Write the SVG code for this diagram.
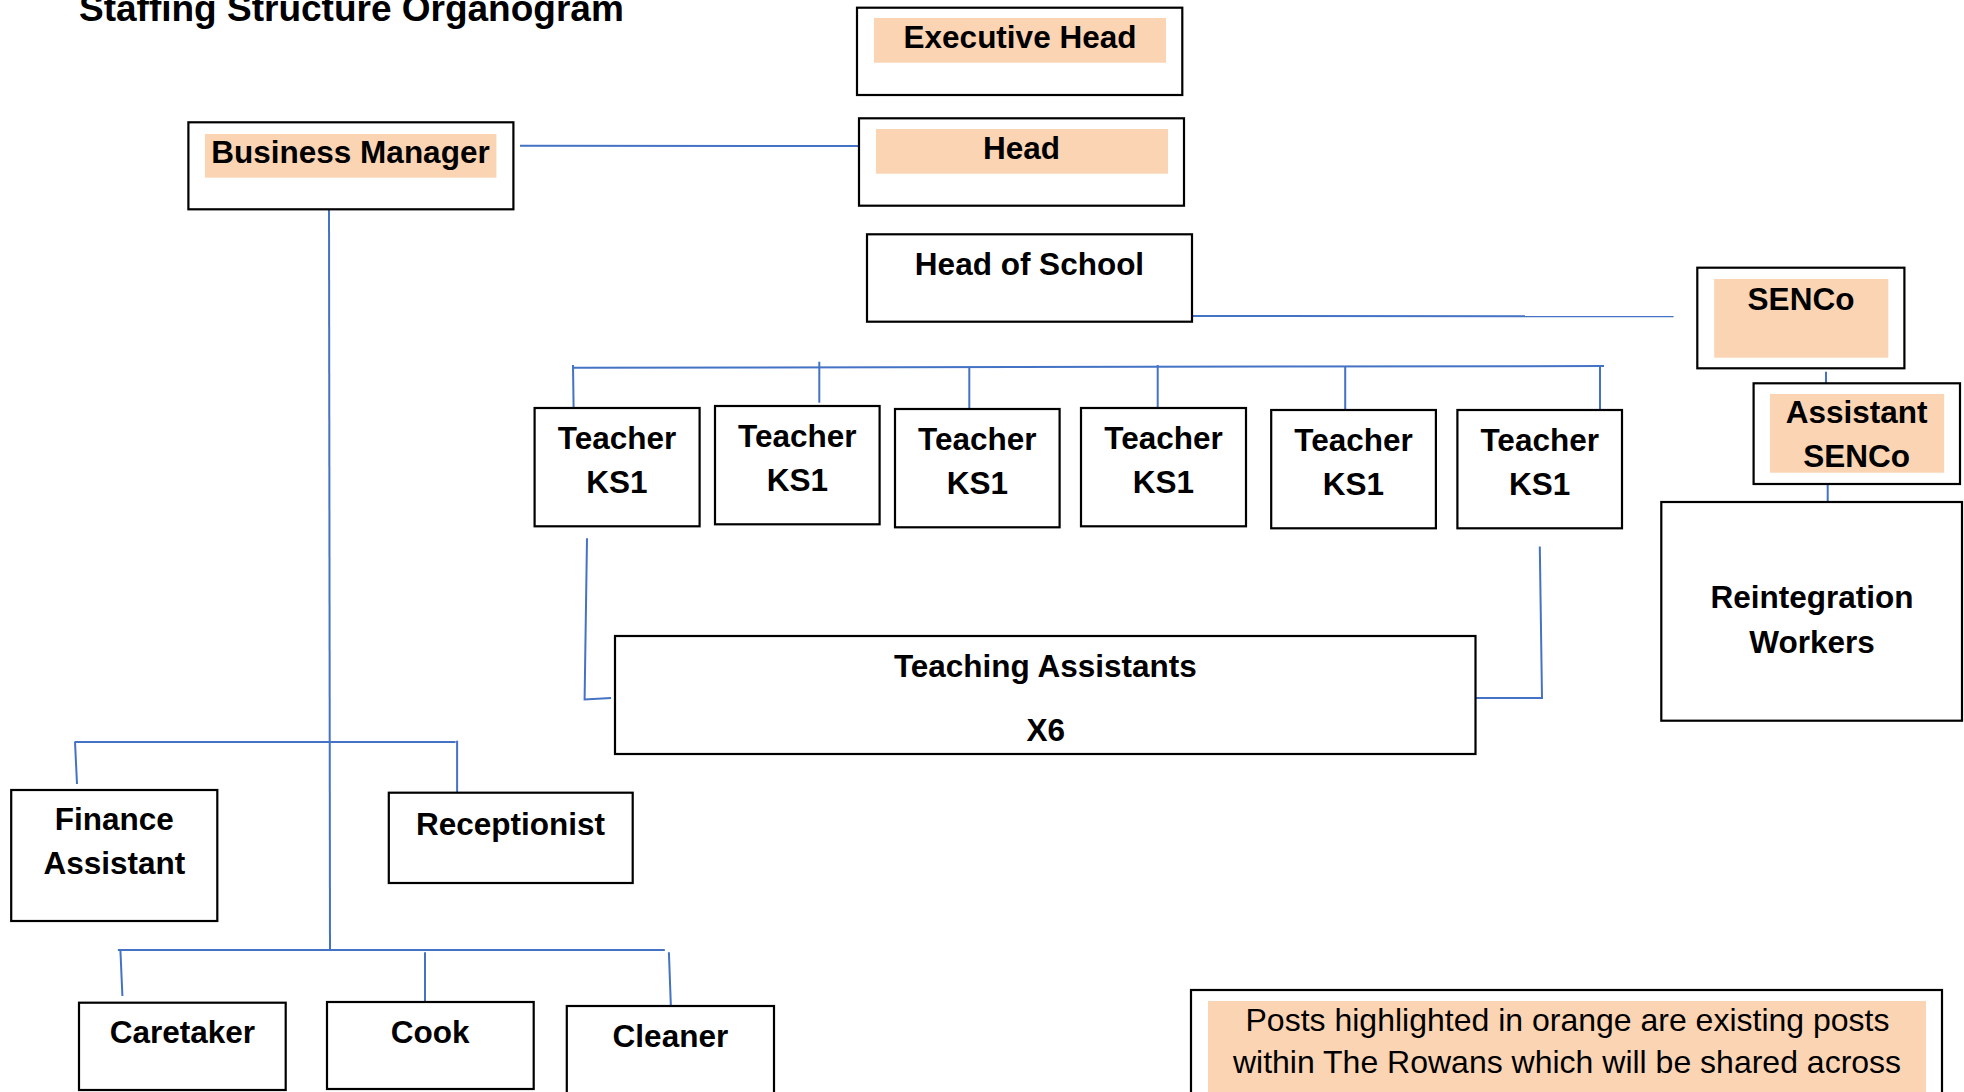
<svg xmlns="http://www.w3.org/2000/svg" width="1964" height="1092" viewBox="0 0 1964 1092">
<style>
.box{fill:#fff;stroke:#000;stroke-width:2.2}
.hl{fill:#FBD4B4;stroke:none}
.t{font-family:"Liberation Sans",Arial,sans-serif;font-weight:bold;font-size:31.5px;fill:#000;text-anchor:middle}
.n{font-family:"Liberation Sans",Arial,sans-serif;font-size:32px;fill:#000;text-anchor:middle}
.c{fill:none;stroke:#4472C4;stroke-width:2}
</style>
<rect width="1964" height="1092" fill="#fff"/>
<text x="79" y="21" font-family="Liberation Sans, Arial, sans-serif" font-weight="bold" font-size="37">Staffing Structure Organogram</text>

<g id="connectors">
<path class="c" d="M520,145.7 L867,146"/>
<path class="c" d="M329,209 L330,951"/>
<path class="c" d="M1192,316 L1673.6,316.3"/>
<path class="c" d="M1826,371.7 L1826,383"/>
<path class="c" d="M1827.7,484 L1827.7,506"/>
<path class="c" d="M573,367.7 L1604,366"/>
<path class="c" d="M573,365 L573.6,407.3"/>
<path class="c" d="M819.3,361.7 L819.3,402.7"/>
<path class="c" d="M969.3,367.5 L969.3,409"/>
<path class="c" d="M1157.7,365 L1157.7,407.3"/>
<path class="c" d="M1345.2,366 L1345.2,410"/>
<path class="c" d="M1600,366 L1600,410"/>
<path class="c" d="M587,538.3 L584.6,699.5 L611,698"/>
<path class="c" d="M1539.8,546.5 L1542,698 L1474.5,698"/>
<path class="c" d="M74.5,742 L455.6,742"/>
<path class="c" d="M75,742 L77,784"/>
<path class="c" d="M457.1,740.7 L457.1,798.3"/>
<path class="c" d="M117.9,950 L664.8,950"/>
<path class="c" d="M120.4,950 L122.4,996"/>
<path class="c" d="M425,952.3 L425,1005.3"/>
<path class="c" d="M668.9,952.3 L670.9,1007.3"/>
</g>

<g id="executive-head">
<rect class="box" x="857" y="7.7" width="325.3" height="87.3"/>
<rect class="hl" x="874" y="18" width="292" height="44.7"/>
<text class="t" x="1020" y="48.3">Executive Head</text>
</g>
<g id="head">
<rect class="box" x="859" y="118.3" width="325" height="87.4"/>
<rect class="hl" x="876" y="129" width="292" height="44.7"/>
<text class="t" x="1021.5" y="159.3">Head</text>
</g>
<g id="business-manager">
<rect class="box" x="188.4" y="122.3" width="325" height="87"/>
<rect class="hl" x="205" y="134" width="291.4" height="43.7"/>
<text class="t" x="350.5" y="163.3">Business Manager</text>
</g>
<g id="head-of-school">
<rect class="box" x="867" y="234.3" width="325" height="87.4"/>
<text class="t" x="1029.5" y="275">Head of School</text>
</g>
<g id="senco">
<rect class="box" x="1697.3" y="267.7" width="207.1" height="100.6"/>
<rect class="hl" x="1714.2" y="279" width="174.1" height="78.7"/>
<text class="t" x="1801" y="310">SENCo</text>
</g>
<g id="assistant-senco">
<rect class="box" x="1753.6" y="383.3" width="206.4" height="100.7"/>
<rect class="hl" x="1770" y="394" width="174.2" height="78.7"/>
<text class="t" x="1856.6" y="423.3">Assistant</text>
<text class="t" x="1856.6" y="467.3">SENCo</text>
</g>
<g id="reintegration-workers">
<rect class="box" x="1661.3" y="502" width="300.7" height="218.7"/>
<text class="t" x="1812" y="608.3">Reintegration</text>
<text class="t" x="1812" y="653.3">Workers</text>
</g>

<g id="teacher-1">
<rect class="box" x="534.6" y="408" width="165" height="118.3"/>
<text class="t" x="617" y="449.3">Teacher</text>
<text class="t" x="617" y="492.7">KS1</text>
</g>
<g id="teacher-2">
<rect class="box" x="715" y="406" width="164.6" height="118.3"/>
<text class="t" x="797.3" y="447.3">Teacher</text>
<text class="t" x="797.3" y="490.7">KS1</text>
</g>
<g id="teacher-3">
<rect class="box" x="895" y="409" width="164.6" height="118.3"/>
<text class="t" x="977.3" y="450">Teacher</text>
<text class="t" x="977.3" y="494">KS1</text>
</g>
<g id="teacher-4">
<rect class="box" x="1081" y="408" width="165" height="118.3"/>
<text class="t" x="1163.5" y="449">Teacher</text>
<text class="t" x="1163.5" y="492.7">KS1</text>
</g>
<g id="teacher-5">
<rect class="box" x="1271.2" y="410" width="164.7" height="118.3"/>
<text class="t" x="1353.5" y="451">Teacher</text>
<text class="t" x="1353.5" y="495">KS1</text>
</g>
<g id="teacher-6">
<rect class="box" x="1457.4" y="410" width="164.6" height="118.3"/>
<text class="t" x="1539.7" y="451">Teacher</text>
<text class="t" x="1539.7" y="495">KS1</text>
</g>

<g id="teaching-assistants">
<rect class="box" x="615" y="636" width="860.5" height="118"/>
<text class="t" x="1045.3" y="676.7">Teaching Assistants</text>
<text class="t" x="1045.8" y="740.7">X6</text>
</g>

<g id="finance-assistant">
<rect class="box" x="11.2" y="790" width="206.1" height="131"/>
<text class="t" x="114.3" y="830">Finance</text>
<text class="t" x="114.3" y="874.3">Assistant</text>
</g>
<g id="receptionist">
<rect class="box" x="388.8" y="792.7" width="243.9" height="90.3"/>
<text class="t" x="510.5" y="835">Receptionist</text>
</g>
<g id="caretaker">
<rect class="box" x="79" y="1002.7" width="206.7" height="87.3"/>
<text class="t" x="182.4" y="1043.3">Caretaker</text>
</g>
<g id="cook">
<rect class="box" x="327" y="1002" width="206.7" height="87"/>
<text class="t" x="430.2" y="1042.7">Cook</text>
</g>
<g id="cleaner">
<rect class="box" x="566.8" y="1006" width="207.2" height="100"/>
<text class="t" x="670.4" y="1046.7">Cleaner</text>
</g>

<g id="note">
<rect class="box" x="1191" y="990" width="751" height="120"/>
<rect class="hl" x="1208" y="1001" width="718" height="110"/>
<text class="n" x="1567.5" y="1030.7">Posts highlighted in orange are existing posts</text>
<text class="n" x="1567" y="1073.3">within The Rowans which will be shared across</text>
</g>
</svg>
